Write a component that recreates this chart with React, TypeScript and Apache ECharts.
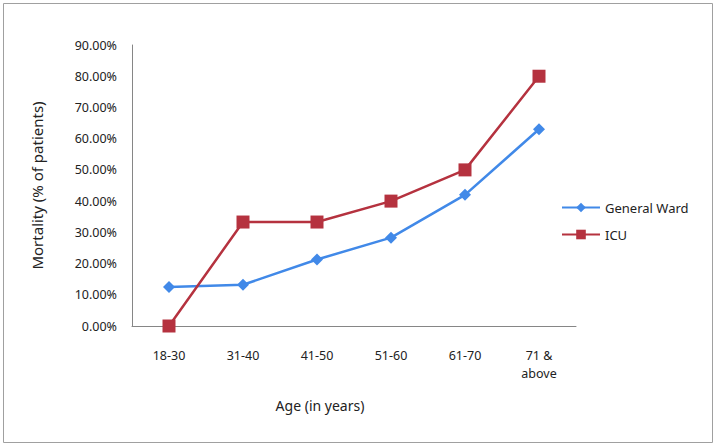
import React, { useEffect, useRef } from "react";
import * as echarts from "echarts";

const categories = ["18-30", "31-40", "41-50", "51-60", "61-70", "71 &\nabove"];
const generalWard = [12.5, 13.2, 21.3, 28.3, 42.0, 63.0];
const icu = [0, 33.3, 33.3, 40.0, 50.0, 80.0];
const seriesNames = ["General Ward", "ICU"];
const yTicksMax = 90;
const yInterval = 10;

const FONT = "Noto Sans";

export default function App() {
  const ref = useRef<HTMLDivElement>(null);
  useEffect(() => {
    if (!ref.current) return;
    const chart = echarts.init(ref.current, null, { renderer: "svg" });
    chart.setOption({
      animation: false,
      backgroundColor: "#ffffff",
      textStyle: { fontFamily: FONT },
      grid: { left: 132, right: 140, top: 45, bottom: 120 },
      legend: {
        orient: "vertical",
        left: 556,
        top: 196,
        itemGap: 14,
        itemWidth: 38,
        itemHeight: 12,
        textStyle: { fontFamily: FONT, fontSize: 13, color: "#222" },
        data: seriesNames,
      },
      xAxis: {
        type: "category",
        data: categories,
        boundaryGap: true,
        axisLine: { lineStyle: { color: "#868686", width: 1 } },
        axisTick: { show: false },
        axisLabel: {
          color: "#222",
          fontFamily: FONT,
          fontSize: 12.5,
          margin: 20,
          lineHeight: 18,
        },
      },
      yAxis: {
        type: "value",
        min: 0,
        max: yTicksMax,
        interval: yInterval,
        name: "Mortality (% of patients)",
        nameLocation: "middle",
        nameGap: 88,
        nameTextStyle: { fontFamily: FONT, fontSize: 15, color: "#222" },
        axisLine: { show: true, lineStyle: { color: "#868686", width: 1 } },
        axisTick: { show: false },
        splitLine: { show: false },
        axisLabel: {
          color: "#222",
          fontFamily: FONT,
          fontSize: 12.5,
          margin: 15,
          formatter: (v: number) => v.toFixed(2) + "%",
        },
      },
      graphic: [
        {
          type: "rect",
          shape: { x: 3.5, y: 3.5, width: 709, height: 439 },
          style: { fill: "none", stroke: "#a0a0a0", lineWidth: 1 },
          silent: true,
        },
        {
          type: "text",
          x: 320,
          y: 405,
          style: {
            text: "Age (in years)",
            fontFamily: FONT,
            fontSize: 14,
            fill: "#222",
            align: "center",
            verticalAlign: "middle",
          },
        },
      ],
      series: [
        {
          name: seriesNames[0],
          type: "line",
          data: generalWard,
          symbol: "diamond",
          symbolSize: 12,
          lineStyle: { color: "#4189E8", width: 2.5 },
          itemStyle: { color: "#4189E8" },
        },
        {
          name: seriesNames[1],
          type: "line",
          data: icu,
          symbol: "rect",
          symbolSize: 13,
          lineStyle: { color: "#B5323F", width: 2.5 },
          itemStyle: { color: "#B5323F" },
        },
      ],
    });
    return () => chart.dispose();
  }, []);
  return (
    <div
      ref={ref}
      style={{ position: "fixed", left: 0, top: 0, width: 716, height: 446 }}
    />
  );
}
